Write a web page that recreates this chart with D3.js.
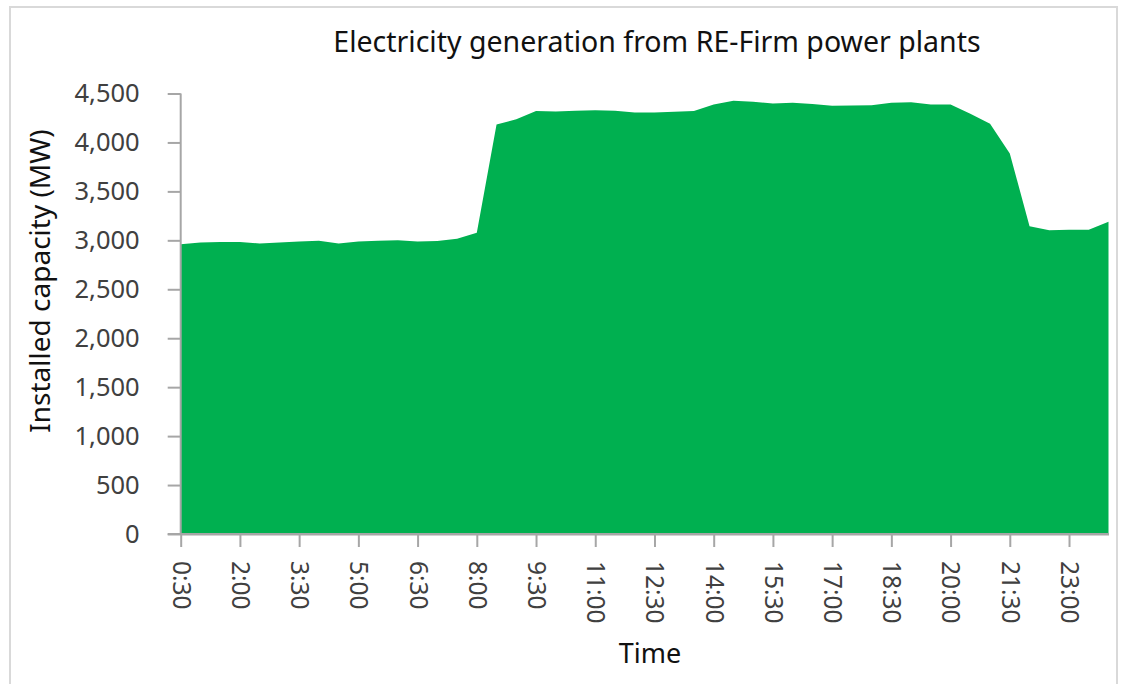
<!DOCTYPE html>
<html><head><meta charset="utf-8">
<script src="https://cdn.jsdelivr.net/npm/d3@7"></script>
<style>body{margin:0;background:#fff}svg{display:block}</style>
</head><body>
<script>
const times = ["0:30","1:00","1:30","2:00","2:30","3:00","3:30","4:00","4:30","5:00","5:30","6:00","6:30","7:00","7:30","8:00","8:30","9:00","9:30","10:00","10:30","11:00","11:30","12:00","12:30","13:00","13:30","14:00","14:30","15:00","15:30","16:00","16:30","17:00","17:30","18:00","18:30","19:00","19:30","20:00","20:30","21:00","21:30","22:00","22:30","23:00","23:30","24:00"];
const generation = [2960,2978,2982,2982,2968,2978,2989,2995,2968,2989,2995,3002,2989,2992,3016,3077,4183,4236,4320,4316,4323,4330,4323,4306,4306,4313,4320,4388,4425,4415,4398,4405,4393,4374,4378,4381,4405,4411,4388,4388,4294,4190,3887,3145,3104,3107,3108,3189];
const xTickLabels = ["0:30","2:00","3:30","5:00","6:30","8:00","9:30","11:00","12:30","14:00","15:30","17:00","18:30","20:00","21:30","23:00"];
const yTicks = [0,500,1000,1500,2000,2500,3000,3500,4000,4500];

const W = 1122, H = 684;
const svg = d3.select("body").append("svg").attr("width", W).attr("height", H);
const font = "'Noto Sans', sans-serif";

svg.append("rect").attr("x",10).attr("y",7).attr("width",1107).attr("height",700)
  .attr("fill","#fff").attr("stroke","#d9d9d9").attr("stroke-width",2);

const x = d3.scalePoint().domain(times).range([180.7, 1108.5]).padding(0);
const y = d3.scaleLinear().domain([0,4500]).range([534, 93.5]);

const data = times.map((t,i)=>({t, v: generation[i]}));
svg.append("path").datum(data)
  .attr("fill","#00B050")
  .attr("d", d3.area().x(d=>x(d.t)).y0(y(0)).y1(d=>y(d.v)));

const gy = svg.append("g").attr("transform","translate(180.7,0)")
  .call(d3.axisLeft(y).tickValues(yTicks).tickSize(13).tickSizeOuter(0).tickPadding(28).tickFormat(d3.format(",")));
gy.selectAll("text").attr("font-family",font).attr("font-size",25.5).attr("fill","#404040");

const gx = svg.append("g").attr("transform","translate(0,534)")
  .call(d3.axisBottom(x).tickValues(xTickLabels).tickSize(13).tickSizeOuter(0));
gx.selectAll("text").attr("font-family",font).attr("font-size",24.5).attr("fill","#404040")
  .attr("transform","rotate(90)").attr("text-anchor","start").attr("dy","0.35em").attr("x",27).attr("y",0);

[gx, gy].forEach(g=>{
  g.select(".domain").attr("stroke","#a6a6a6").attr("stroke-width",2);
  g.selectAll(".tick line").attr("stroke","#a6a6a6").attr("stroke-width",2);
});
gy.select(".domain").remove();
svg.append("line").attr("x1",180.7).attr("x2",180.7).attr("y1",y(4500)).attr("y2",534)
  .attr("stroke","#a6a6a6").attr("stroke-width",2);
svg.append("line").attr("x1",167.7).attr("x2",1108.5).attr("y1",534).attr("y2",534)
  .attr("stroke","#a6a6a6").attr("stroke-width",2);

svg.append("text").attr("x",657).attr("y",52).attr("text-anchor","middle")
  .attr("font-family",font).attr("font-size",28.5).attr("fill","#111")
  .text("Electricity generation from RE-Firm power plants");
svg.append("text").attr("transform","translate(50,281) rotate(-90)").attr("text-anchor","middle")
  .attr("font-family",font).attr("font-size",28).attr("fill","#111")
  .text("Installed capacity (MW)");
svg.append("text").attr("x",650).attr("y",663).attr("text-anchor","middle")
  .attr("font-family",font).attr("font-size",27).attr("fill","#111")
  .text("Time");
</script>
</body></html>
